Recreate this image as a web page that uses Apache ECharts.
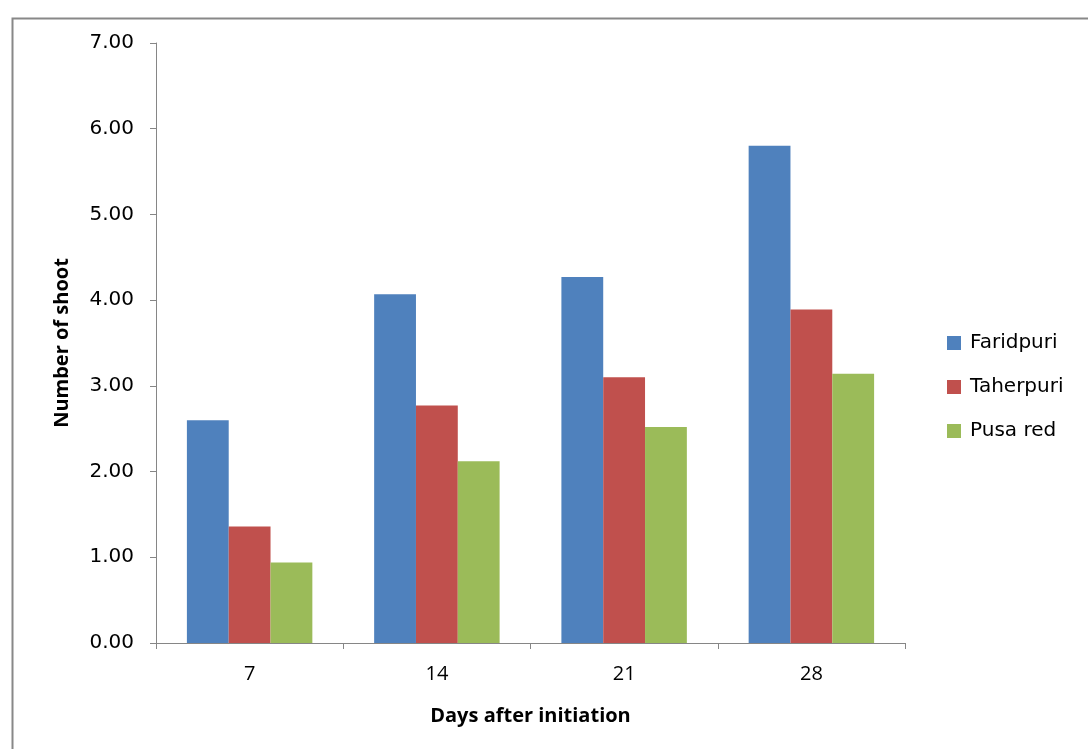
<!DOCTYPE html>
<html>
<head>
<meta charset="utf-8">
<script src="https://cdn.jsdelivr.net/npm/echarts@6/dist/echarts.min.js"></script>
<style>html,body{margin:0;padding:0;background:#fff}#c{width:1088px;height:749px}</style>
</head>
<body>
<div id="c"></div>
<script>
const categories = ['7', '14', '21', '28'];
const faridpuri = [2.60, 4.07, 4.27, 5.80];
const taherpuri = [1.36, 2.77, 3.10, 3.89];
const pusaRed = [0.94, 2.12, 2.52, 3.14];
const seriesNames = ['Faridpuri', 'Taherpuri', 'Pusa red'];
const colors = ['#4F81BD', '#C0504D', '#9BBB59'];

const chart = echarts.init(document.getElementById('c'));
const axisColor = '#868686';
chart.setOption({
  animation: false,
  color: colors,
  graphic: [{
    type: 'rect', left: 10, top: 16, shape: { width: 1100, height: 800 },
    style: { fill: 'none', stroke: '#888', lineWidth: 2 }, silent: true
  }],
  grid: { left: 156, right: 183, top: 43, bottom: 106 },
  legend: {
    orient: 'vertical', left: 942, top: 328, itemGap: 24,
    itemWidth: 14, itemHeight: 14, icon: 'rect',
    textStyle: { fontFamily: 'DejaVu Sans', fontSize: 20, color: '#000', padding: [0, 0, 0, 4], lineHeight: 20 },
    data: seriesNames
  },
  xAxis: {
    type: 'category', data: categories,
    name: 'Days after initiation', nameLocation: 'middle', nameGap: 63,
    nameTextStyle: { fontFamily: 'Open Sans', fontWeight: 'bold', fontSize: 20, color: '#000' },
    axisLine: { lineStyle: { color: axisColor, width: 1 } },
    axisTick: { show: true, length: 6, lineStyle: { color: axisColor } },
    axisLabel: { fontFamily: 'Open Sans', fontSize: 20, color: '#000', margin: 21 }
  },
  yAxis: {
    type: 'value', min: 0, max: 7, interval: 1,
    name: 'Number of shoot', nameLocation: 'middle', nameGap: 84, nameRotate: 90,
    nameTextStyle: { fontFamily: 'Open Sans', fontWeight: 'bold', fontSize: 20, color: '#000' },
    axisLine: { show: true, lineStyle: { color: axisColor, width: 1 } },
    axisTick: { show: true, length: 6, lineStyle: { color: axisColor } },
    splitLine: { show: false },
    axisLabel: { fontFamily: 'DejaVu Sans', fontSize: 20, color: '#000', margin: 22,
      formatter: v => v.toFixed(2) }
  },
  series: [
    { name: seriesNames[0], type: 'bar', data: faridpuri, barGap: '0%', barCategoryGap: '33%' },
    { name: seriesNames[1], type: 'bar', data: taherpuri, barGap: '0%', barCategoryGap: '33%' },
    { name: seriesNames[2], type: 'bar', data: pusaRed, barGap: '0%', barCategoryGap: '33%' }
  ]
});
</script>
</body>
</html>
